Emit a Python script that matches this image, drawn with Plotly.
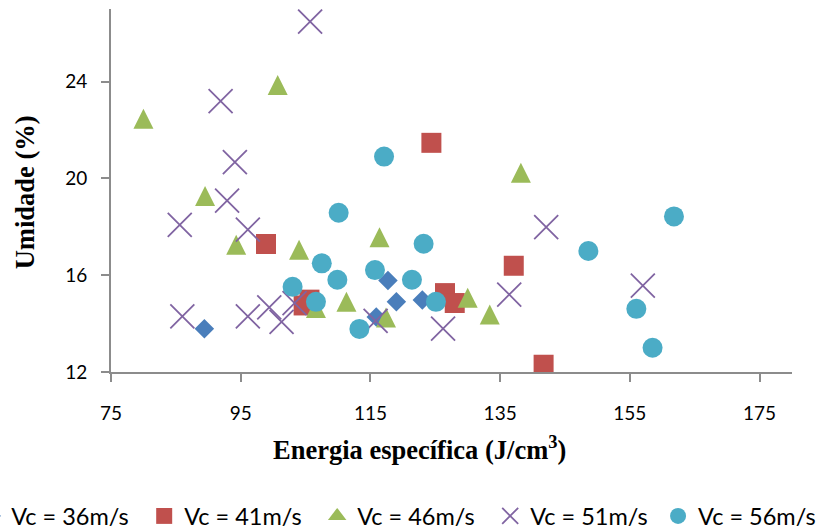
import plotly.graph_objects as go

# Energia específica (J/cm³) vs Umidade (%) for each cutting speed
series_names = ["Vc = 36m/s", "Vc = 41m/s", "Vc = 46m/s", "Vc = 51m/s", "Vc = 56m/s"]

energia_36 = [89.4, 115.9, 117.7, 119.0, 123.0]
umidade_36 = [13.79, 14.27, 15.78, 14.90, 14.98]

energia_41 = [98.9, 104.7, 105.6, 124.4, 126.5, 128.0, 137.1, 141.7]
umidade_41 = [17.29, 14.75, 14.99, 21.47, 15.26, 14.85, 16.39, 12.30]

energia_46 = [80.0, 100.7, 89.5, 94.3, 104.0, 106.6, 111.3, 116.4, 117.4, 130.0, 133.4, 138.2]
umidade_46 = [22.46, 23.86, 19.27, 17.26, 17.05, 14.64, 14.90, 17.57, 14.25, 15.07, 14.38, 20.23]

energia_51 = [105.7, 91.9, 94.1, 92.9, 85.6, 96.1, 86.0, 96.1, 99.4, 101.3, 103.3,
              115.8, 126.2, 136.4, 142.1, 157.0]
umidade_51 = [26.48, 23.19, 20.67, 19.08, 18.08, 17.88, 14.30, 14.30, 14.67, 14.07, 14.85,
              14.11, 13.79, 15.20, 17.99, 15.57]

energia_56 = [117.1, 110.1, 107.5, 109.9, 103.0, 106.6, 123.2, 115.7, 121.4, 125.1, 113.3,
              148.6, 161.8, 156.0, 158.5]
umidade_56 = [20.90, 18.58, 16.49, 15.81, 15.52, 14.90, 17.30, 16.21, 15.81, 14.90, 13.78,
              17.00, 18.43, 14.61, 13.00]

x_ticks = [75, 95, 115, 135, 155, 175]
y_ticks = [12, 16, 20, 24]

BLUE, RED, GREEN, PURPLE, AQUA = "#4a7ebb", "#c0504d", "#9bbb59", "#8064a2", "#4bacc6"
LEGEND_FONT = dict(family="Lato, Liberation Sans, sans-serif", size=23.5, color="#000000")

fig = go.Figure()

fig.add_trace(go.Scatter(
    x=energia_36, y=umidade_36, mode="markers", name=series_names[0], legendwidth=128,
    marker=dict(symbol="diamond", size=15, color=BLUE, line=dict(width=0)),
))
fig.add_trace(go.Scatter(
    x=energia_41, y=umidade_41, mode="markers", name=series_names[1], legendwidth=128,
    marker=dict(symbol="square", size=20, color=RED, line=dict(width=0)),
))
# equilateral-looking triangle: an arrow flipped upright and pushed back onto its centre
fig.add_trace(go.Scatter(
    x=energia_46, y=umidade_46, mode="markers", name=series_names[2],
    legendgroup="vc46", showlegend=False,
    marker=dict(symbol="arrow-down", angle=180, size=20, standoff=10, color=GREEN,
                line=dict(width=0)),
))
# legend entry for the triangle series (plain triangle symbol)
fig.add_trace(go.Scatter(
    x=[None], y=[None], mode="markers", name=series_names[2], legendwidth=128,
    legendgroup="vc46",
    marker=dict(symbol="triangle-up", size=16, color=GREEN, line=dict(width=0)),
))
fig.add_trace(go.Scatter(
    x=energia_51, y=umidade_51, mode="markers", name=series_names[3], legendwidth=128,
    marker=dict(symbol="x-thin-open", size=24, color=PURPLE, line=dict(width=1.8, color=PURPLE)),
))
fig.add_trace(go.Scatter(
    x=energia_56, y=umidade_56, mode="markers", name=series_names[4], legend="legend2",
    marker=dict(symbol="circle", size=20, color=AQUA, line=dict(width=0)),
))

axis_common = dict(
    showgrid=False, zeroline=False, showline=True, linecolor="#8c8c8c", linewidth=2,
    ticks="outside", ticklen=8, tickwidth=2, tickcolor="#8c8c8c",
    tickfont=dict(family="Lato, Liberation Sans, sans-serif", size=19, color="#000000"),
)

title_font = dict(family="Liberation Serif, Times New Roman, serif", size=26.5,
                  color="#000000", weight="bold")

fig.update_layout(
    width=819, height=531,
    margin=dict(l=111, r=27, t=9, b=159, autoexpand=False),
    paper_bgcolor="white", plot_bgcolor="white",
    xaxis=dict(range=[75, 180], tickmode="array", tickvals=x_ticks,
               ticktext=[str(v) for v in x_ticks], ticklabelstandoff=15, **axis_common),
    yaxis=dict(range=[12, 27], tickmode="array", tickvals=y_ticks,
               ticktext=[str(v) for v in y_ticks], ticklabelstandoff=10, **axis_common),
    showlegend=True,
    legend=dict(
        orientation="h", x=-0.2053, xanchor="left", y=-0.397, yanchor="middle",
        font=LEGEND_FONT, bgcolor="rgba(0,0,0,0)", itemclick=False,
    ),
    legend2=dict(
        orientation="h", x=0.8033, xanchor="left", y=-0.397, yanchor="middle",
        font=LEGEND_FONT, bgcolor="rgba(0,0,0,0)", itemclick=False,
    ),
    annotations=[
        dict(text="Energia específica (J/cm<sup>3</sup>)", xref="paper", yref="paper",
             x=0.4525, y=-0.209, xanchor="center", yanchor="middle", showarrow=False,
             font=title_font),
        dict(text="Umidade (%)", xref="paper", yref="paper", textangle=-90,
             x=-0.1258, y=0.496, xanchor="center", yanchor="middle", showarrow=False,
             font=title_font),
    ],
)

fig.write_html("out.html")
